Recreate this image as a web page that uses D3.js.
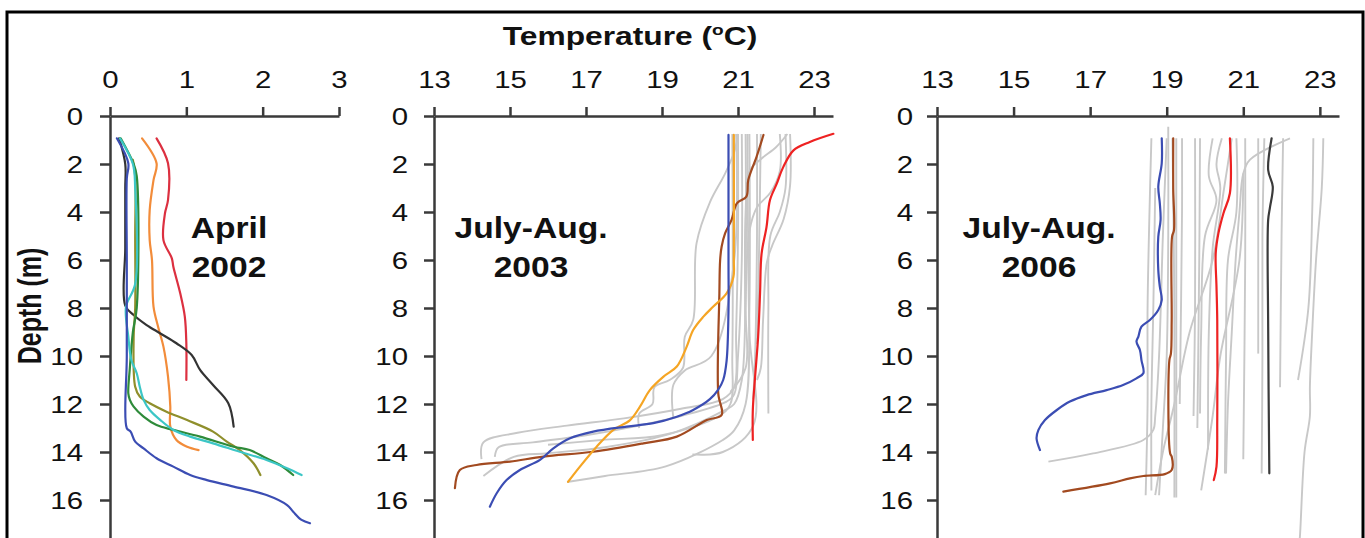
<!DOCTYPE html>
<html>
<head>
<meta charset="utf-8">
<script src="https://cdn.jsdelivr.net/npm/d3@7"></script>
<style>
  html, body { margin: 0; padding: 0; background: #fff; }
  svg { display: block; }
  text { font-family: "Liberation Sans", Arial, sans-serif; fill: #111; }
</style>
</head>
<body>
<svg id="chart" width="1365" height="538"></svg>
<script>
// ---------------- DATA ----------------
// Tick labels
const ticksP1 = [0, 1, 2, 3];
const ticksP23 = [13, 15, 17, 19, 21, 23];
const depthTicks = [0, 2, 4, 6, 8, 10, 12, 14, 16];

// Panel labels
const panelTitles = [["April", "2002"], ["July-Aug.", "2003"], ["July-Aug.", "2006"]];

// ---- Panel 1: April 2002 (profiles as [temperature, depth]) ----
const apr02_red = [[0.61,0.93],[0.76,1.97],[0.76,3.5],[0.72,4.06],[0.70,5.17],[0.81,5.93],[0.83,6.28],[0.92,7.39],[0.98,8.36],[1.0,9.47],[1.0,11.0]];
const apr02_orange = [[0.42,0.93],[0.61,1.97],[0.57,2.67],[0.52,3.92],[0.52,5.17],[0.55,6.0],[0.57,7.94],[0.63,8.78],[0.70,9.61],[0.76,10.86],[0.79,12.11],[0.79,12.94],[0.87,13.5],[1.01,13.78],[1.16,13.92]];
const apr02_black = [[0.12,0.93],[0.2,2.0],[0.2,3.0],[0.2,5.5],[0.2,7.9],[0.31,8.29],[0.48,8.71],[0.66,9.06],[0.87,9.47],[1.07,9.96],[1.18,10.58],[1.35,11.21],[1.55,11.97],[1.62,12.94]];
const apr02_olive = [[0.30,1.83],[0.33,2.5],[0.33,5.0],[0.33,8.0],[0.31,9.19],[0.33,11.28],[0.39,11.69],[0.52,11.97],[0.74,12.32],[1.01,12.67],[1.35,13.15],[1.53,13.57],[1.70,13.92],[1.88,14.47],[1.97,14.96]];
const apr02_green = [[0.14,0.93],[0.31,2.0],[0.35,2.5],[0.35,8.0],[0.30,9.0],[0.26,10.5],[0.24,11.56],[0.26,11.83],[0.31,12.11],[0.44,12.53],[0.61,12.88],[0.83,13.08],[1.18,13.36],[1.62,13.78],[1.83,13.92],[2.05,14.26],[2.23,14.54],[2.40,14.96]];
const apr02_cyan = [[0.13,0.93],[0.30,2.0],[0.33,3.0],[0.33,7.0],[0.21,7.94],[0.24,9.19],[0.28,10.17],[0.35,10.72],[0.39,11.28],[0.44,11.83],[0.52,12.25],[0.66,12.67],[0.83,13.08],[1.05,13.36],[1.35,13.64],[1.70,13.99],[2.05,14.33],[2.32,14.68],[2.51,14.96]];
const apr02_blue = [[0.09,0.93],[0.24,1.97],[0.22,2.6],[0.22,6.0],[0.22,10.0],[0.22,13.01],[0.27,13.15],[0.33,13.57],[0.44,13.85],[0.61,14.26],[0.83,14.61],[1.05,14.96],[1.27,15.17],[1.62,15.44],[2.05,15.79],[2.32,16.21],[2.40,16.49],[2.51,16.83],[2.62,16.97]];

// ---- Panel 2: July-Aug 2003 ----
const jul03_grey = [
  [[21.0,0.75],[21.0,5],[20.95,9],[20.9,11.3],[20.6,11.8],[19.5,12.2],[18.0,12.6],[16.5,12.9],[15.2,13.2],[14.3,13.6],[14.25,14.3]],
  [[21.1,0.75],[21.1,6],[21.0,10],[20.9,11.6],[20.7,11.9],[19.5,12.5],[18.4,12.9],[17.0,13.3],[15.6,13.6],[14.7,13.8],[14.6,14.2]],
  [[21.2,0.75],[21.2,7],[21.1,11],[20.9,12.0],[20.6,12.3],[19.3,13.2],[17.5,13.8],[16.0,14.05],[15.1,14.2],[14.3,15.0]],
  [[21.3,0.75],[21.3,8],[21.2,12],[20.9,13.1],[20.6,13.5],[19.1,14.6],[17.5,15.0],[16.5,15.25]],
  [[21.25,0.75],[21.3,9],[21.4,12.9],[20.6,14.0],[19.8,14.1]],
  [[22.1,0.75],[22.1,2.3],[21.85,3.2],[21.5,3.8],[21.3,4.8],[21.2,8],[21.2,10.5],[20.8,11.5]],
  [[22.37,0.75],[22.37,2.9],[22.2,4.3],[21.9,5.4],[21.76,6.1],[21.66,8.5],[21.6,10.5],[21.5,11]],
  [[22.3,0.75],[22.0,1.3],[21.6,1.8],[21.3,2.3],[21.2,4],[21.2,9]],
  [[22.25,0.75],[22.25,3],[22.1,4],[21.85,5],[21.8,8],[21.8,12.4]],
  [[21.0,0.75],[20.9,1.5],[20.66,2.4],[20.26,3.6],[19.91,5.3],[19.82,8.5],[19.6,9.2],[19.55,10.5],[19.2,11.0],[18.8,11.3],[18.75,12.0],[18.4,12.4],[18.4,13.0]],
  [[20.85,0.75],[20.85,10],[20.8,12],[20.5,12.5],[19.0,13.3],[17.4,13.5],[16.0,13.7]],
  [[21.5,0.75],[21.5,5],[21.45,10],[21.4,11.8]],
  [[21.6,0.75],[21.55,6],[21.5,9.5]],
  [[20.95,0.75],[20.9,6],[20.3,10],[19.6,10.6],[19.3,11.2],[19.3,12.6]]
];
const jul03_blue = [[20.75,0.79],[20.75,6.0],[20.75,8.1],[20.70,10.2],[20.61,11.0],[20.48,11.4],[20.26,11.8],[19.82,12.25],[19.39,12.53],[18.77,12.8],[18.07,12.94],[17.19,13.15],[16.58,13.43],[16.14,13.85],[15.79,14.33],[15.26,14.75],[14.91,15.17],[14.65,15.72],[14.47,16.28]];
const jul03_orange = [[20.89,0.79],[20.89,6.0],[20.88,6.7],[20.70,7.39],[20.35,7.94],[20.09,8.36],[19.82,8.92],[19.65,9.61],[19.39,10.44],[19.04,10.86],[18.68,11.42],[18.42,12.11],[18.16,12.67],[17.72,13.08],[17.28,13.78],[16.84,14.61],[16.53,15.24]];
const jul03_brown = [[21.67,0.79],[21.49,1.69],[21.27,2.67],[21.22,3.36],[20.97,3.64],[20.83,4.33],[20.66,4.89],[20.57,5.44],[20.53,6.0],[20.51,7.39],[20.48,11.56],[20.57,12.46],[20.18,12.67],[19.39,13.36],[18.51,13.64],[17.19,13.99],[15.88,14.19],[15.0,14.4],[14.12,14.54],[13.68,14.75],[13.55,15.51]];
const jul03_red = [[23.51,0.74],[22.89,1.08],[22.46,1.43],[22.19,2.13],[22.02,2.82],[21.84,3.51],[21.75,4.63],[21.62,5.74],[21.58,7.39],[21.53,9.19],[21.45,10.86],[21.39,12.25],[21.39,13.5]];

// ---- Panel 3: July-Aug 2006 ----
const jul06_grey = [
  [[19.04,0.45],[19.04,5],[19.0,10],[18.9,13],[18.8,15.8]],
  [[18.6,0.93],[18.55,4],[18.5,8],[18.5,12],[18.45,15.8]],
  [[18.7,3.0],[18.65,8],[18.6,12],[18.6,15.6]],
  [[19.25,0.93],[19.25,8],[19.25,15.9]],
  [[19.15,0.93],[19.2,8],[19.2,15.9]],
  [[19.4,0.93],[19.4,4],[19.34,12.0]],
  [[19.74,0.93],[19.74,8],[19.7,12.5]],
  [[19.87,0.93],[19.85,6],[19.8,13]],
  [[20.2,0.93],[20.1,2.5],[20.3,3.5],[20.0,5],[19.9,9],[19.87,12.4]],
  [[20.44,0.93],[20.3,2],[20.4,3],[20.2,5.5],[20.1,9],[20.08,13.9]],
  [[20.82,0.93],[20.82,4],[20.6,6],[20.55,10],[20.52,14.9]],
  [[22.22,0.93],[21.17,1.83],[21.0,2.4],[20.9,4],[20.8,6],[20.7,9],[20.6,12],[20.55,14.9]],
  [[22.04,0.93],[22.0,5],[21.96,11.3]],
  [[21.39,0.93],[21.39,9.9]],
  [[21.55,0.93],[21.5,5],[21.5,10],[21.48,14.9]],
  [[22.83,0.93],[22.8,4],[22.7,8],[22.43,11.0]],
  [[23.09,0.93],[23.05,3],[22.9,6],[22.8,9],[22.74,11.28],[22.74,12.5],[22.6,14],[22.48,17.5],[22.45,18]],
  [[19.0,0.93],[18.9,5],[18.8,10],[18.7,12.5],[18.65,13.08],[18.39,13.5],[17.08,14.06],[15.91,14.4]],
  [[20.7,0.93],[20.5,3],[20.2,6],[19.6,9],[19.2,12],[18.9,14],[18.7,15.8]],
  [[21.0,2.4],[20.9,6],[20.4,10],[20.2,12.5],[19.9,15.6]],
  [[21.05,0.93],[21.05,6],[21.0,14.3]]
];
const jul06_blue = [[18.87,0.93],[18.87,1.97],[18.78,2.94],[18.82,3.64],[18.84,4.33],[18.78,5.03],[18.78,6.42],[18.82,7.11],[18.87,7.67],[18.78,8.08],[18.56,8.5],[18.34,8.78],[18.26,9.19],[18.21,9.4],[18.30,9.75],[18.34,10.17],[18.39,10.72],[18.21,10.93],[17.86,11.21],[17.43,11.42],[16.91,11.63],[16.47,11.9],[16.13,12.25],[15.82,12.67],[15.65,13.08],[15.60,13.43],[15.69,13.92]];
const jul06_brown = [[19.17,0.93],[19.17,3.0],[19.19,4.75],[19.14,5.03],[19.13,8.5],[19.11,9.9],[19.07,10.17],[19.09,14.06],[19.13,14.19],[19.13,14.75],[18.95,14.92],[18.39,15.0],[18.04,15.1],[17.52,15.31],[16.30,15.65]];
const jul06_red = [[20.65,0.93],[20.65,3.22],[20.48,4.06],[20.35,4.89],[20.28,5.72],[20.30,7.11],[20.32,8.5],[20.32,12.67],[20.30,14.61],[20.23,15.17]];
const jul06_black = [[21.74,0.93],[21.65,2.25],[21.77,2.94],[21.70,3.78],[21.65,4.33],[21.65,8.78],[21.68,14.89]];

// ---------------- DRAWING ----------------
const svg = d3.select("#chart");
const FONT = "'Liberation Sans', Arial, sans-serif";
const TXS = 1.25; // horizontal stretch of text in the original image

// frame
svg.append("rect").attr("x", 7).attr("y", 12).attr("width", 1356).attr("height", 560)
  .attr("fill", "none").attr("stroke", "#000").attr("stroke-width", 3);

const y = d3.scaleLinear().domain([0, 18]).range([116, 548]);

const panels = [
  { x: d3.scaleLinear().domain([0, 3]).range([110, 339]), ticks: ticksP1, gap: 27,
    title: panelTitles[0], tx: 229, grey: [],
    lines: [[apr02_red, "#dc3040"], [apr02_orange, "#f28c3a"], [apr02_black, "#333333"], [apr02_olive, "#8f8f2c"],
            [apr02_green, "#2e8b3a"], [apr02_cyan, "#3cc6c6"], [apr02_blue, "#3b4db3"]] },
  { x: d3.scaleLinear().domain([13, 23.5]).range([434, 833]), ticks: ticksP23, gap: 26,
    title: panelTitles[1], tx: 531, grey: jul03_grey,
    lines: [[jul03_red, "#ee2222"], [jul03_brown, "#a24a20"], [jul03_orange, "#f5a524"], [jul03_blue, "#3b4db3"]] },
  { x: d3.scaleLinear().domain([13, 23.5]).range([937, 1339]), ticks: ticksP23, gap: 24,
    title: panelTitles[2], tx: 1039, grey: jul06_grey,
    lines: [[jul06_black, "#3a3a3a"], [jul06_red, "#ee2222"], [jul06_brown, "#a24a20"], [jul06_blue, "#3b4db3"]] }
];

panels.forEach(p => {
  const g = svg.append("g");
  const line = d3.line().x(d => p.x(d[0])).y(d => y(d[1])).curve(d3.curveCatmullRom.alpha(0.5));

  // grey profiles
  g.append("g").selectAll("path").data(p.grey).join("path")
    .attr("d", line).attr("fill", "none").attr("stroke", "#c8c8c8")
    .attr("stroke-width", 1.9).attr("stroke-linejoin", "round");

  // coloured profiles
  g.append("g").selectAll("path").data(p.lines).join("path")
    .attr("d", d => line(d[0])).attr("fill", "none").attr("stroke", d => d[1])
    .attr("stroke-width", 2.2).attr("stroke-linejoin", "round").attr("stroke-linecap", "round");

  // x axis (top)
  const xa = g.append("g").attr("transform", "translate(0,116)")
    .call(d3.axisTop(p.x).tickValues(p.ticks).tickSize(9).tickSizeOuter(0).tickPadding(19).tickFormat(d3.format("d")));
  // y axis (left)
  const ya = g.append("g").attr("transform", `translate(${p.x.range()[0]},0)`)
    .call(d3.axisLeft(y).tickValues(depthTicks).tickSize(10).tickSizeOuter(0).tickFormat(d3.format("d")));

  [xa, ya].forEach(a => {
    a.select(".domain").attr("stroke", "#3a3a3a").attr("stroke-width", 2.5);
    a.selectAll(".tick line").attr("stroke", "#3a3a3a").attr("stroke-width", 2.5);
    a.selectAll("text").attr("font-family", FONT).attr("font-size", 23.5).attr("fill", "#111");
  });
  xa.selectAll("text").attr("transform", `scale(${TXS},1)`);
  ya.selectAll("text").attr("x", -p.gap / TXS).attr("dy", "0.36em").attr("transform", `scale(${TXS},1)`);

  // panel annotation
  p.title.forEach((t, i) => {
    g.append("text").attr("transform", `translate(${p.tx},${238 + i * 39}) scale(1.12,1)`)
      .attr("text-anchor", "middle").attr("font-weight", "bold").attr("font-size", 30)
      .attr("font-family", FONT).text(t);
  });
});

// Axis titles
const tt = svg.append("text").attr("transform", "translate(630,45) scale(1.27,1)")
  .attr("text-anchor", "middle").attr("font-weight", "bold").attr("font-size", 25).attr("font-family", FONT);
tt.append("tspan").text("Temperature (");
tt.append("tspan").attr("font-size", 15).attr("dy", -10).text("o");
tt.append("tspan").attr("dy", 10).text("C)");

svg.append("text").attr("transform", "translate(41,306) rotate(-90) scale(1,1.3)")
  .attr("text-anchor", "middle").attr("font-weight", "bold").attr("font-size", 25).attr("font-family", FONT)
  .text("Depth (m)");
</script>
</body>
</html>
